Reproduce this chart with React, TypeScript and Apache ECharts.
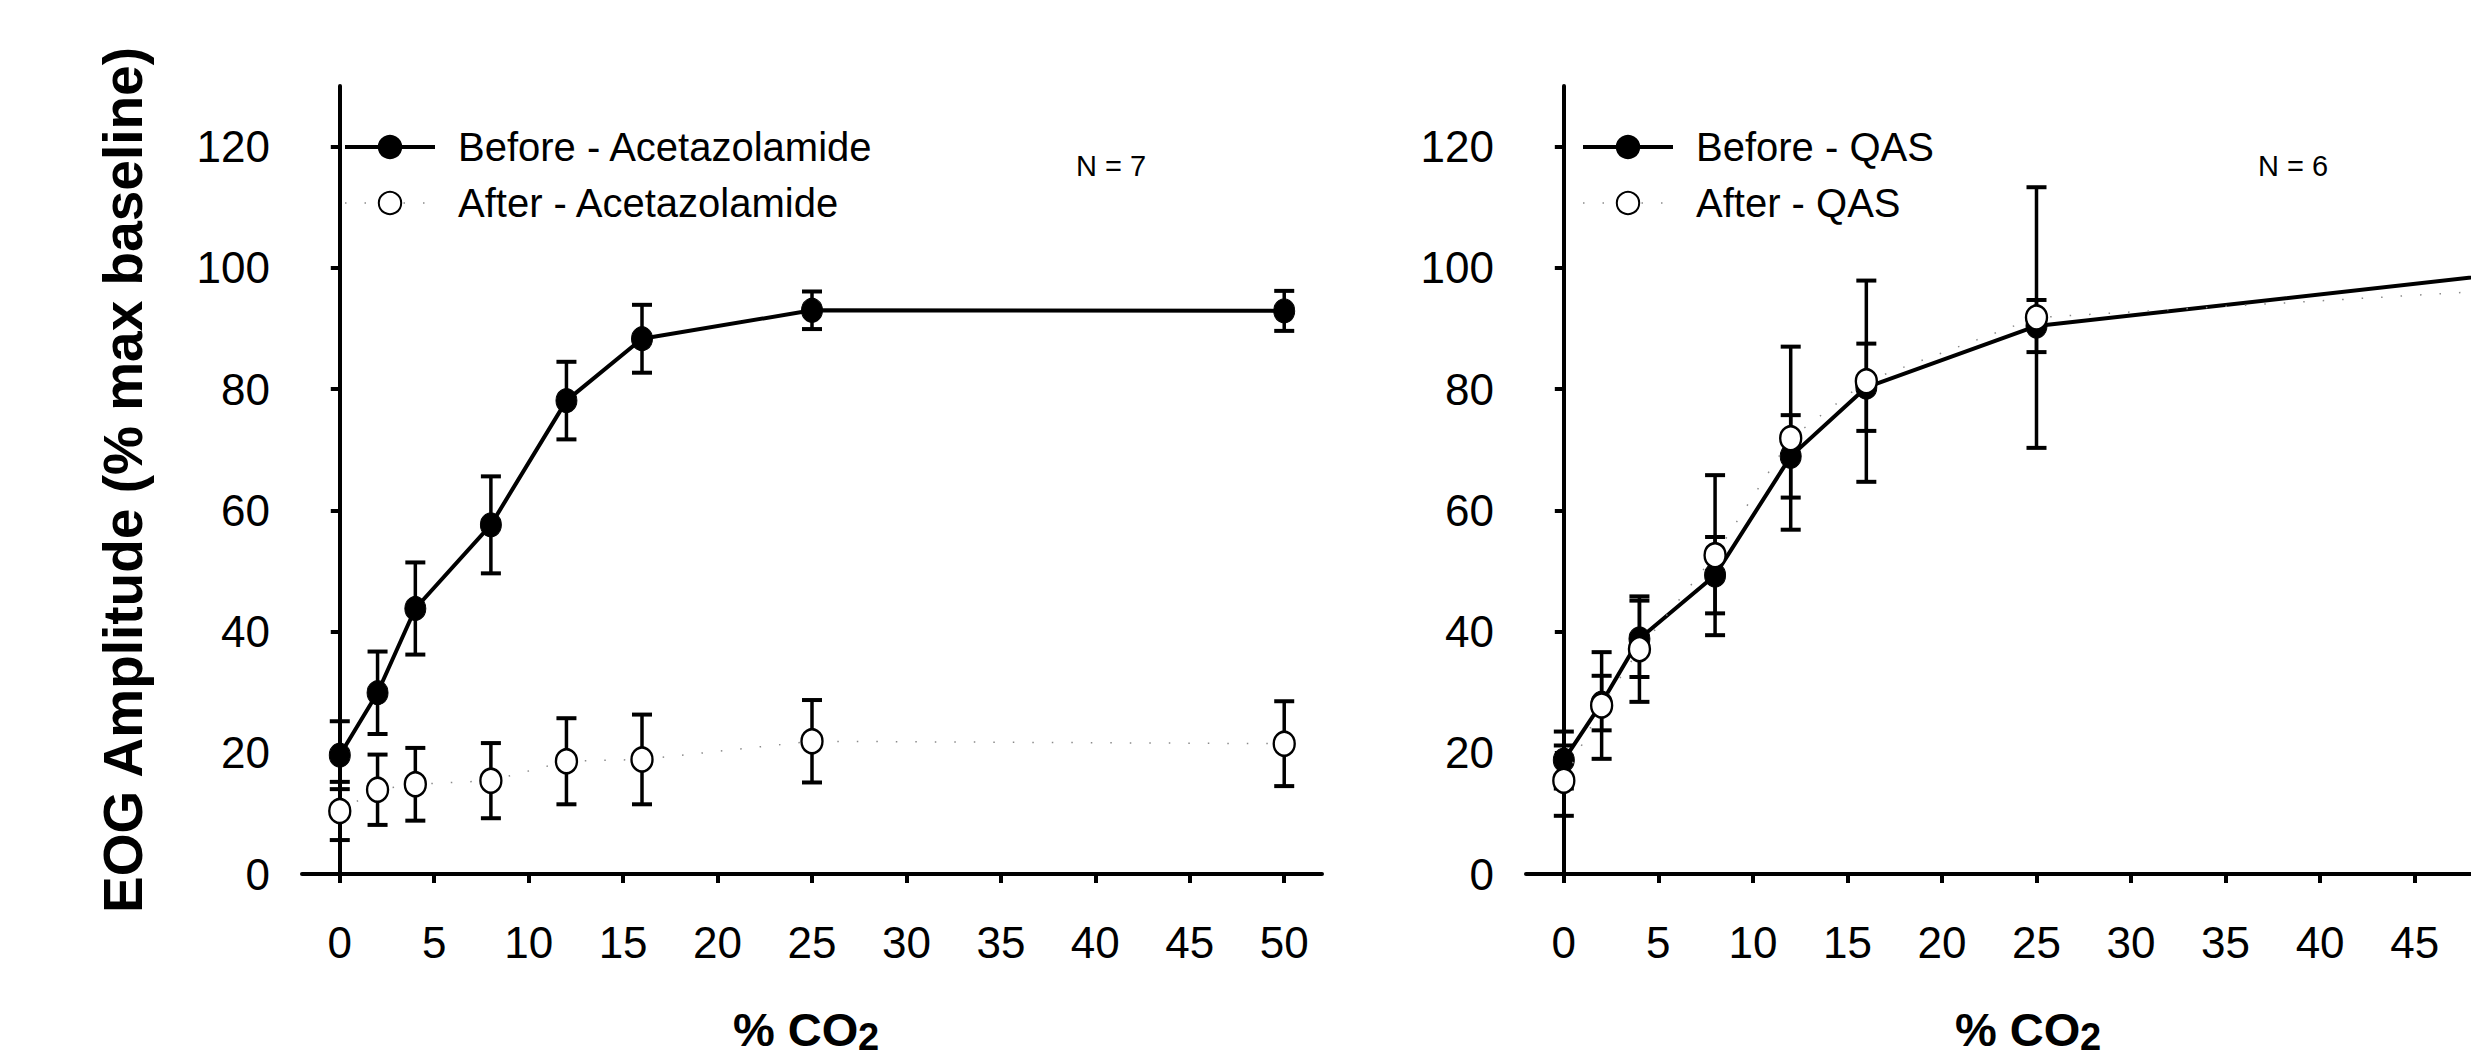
import React, { useEffect, useRef } from "react";
import * as echarts from "echarts";

// % CO2 levels
const co2 = [0, 2, 4, 8, 12, 16, 25, 50];

// Left panel: Acetazolamide (N = 7)
const beforeAcet = [19.6, 29.9, 43.8, 57.6, 78.1, 88.3, 93.0, 92.9];
const beforeAcetSE = [5.6, 6.8, 7.6, 8.0, 6.4, 5.6, 3.1, 3.3];
const afterAcet = [10.4, 13.9, 14.8, 15.4, 18.6, 18.9, 21.9, 21.5];
const afterAcetSE = [4.8, 5.8, 6.0, 6.2, 7.1, 7.4, 6.8, 7.0];

// Right panel: QAS (N = 6)
const beforeQAS = [18.8, 28.2, 38.8, 49.3, 68.9, 80.3, 90.4, 99.1];
const beforeQASSE = [4.7, 4.5, 6.3, 6.3, 6.8, 7.2, 4.3, 4.0];
const afterQAS = [15.4, 27.8, 37.1, 52.6, 71.9, 81.3, 91.8, 96.4];
const afterQASSE = [5.8, 8.8, 8.7, 13.2, 15.1, 16.6, 21.5, 20.0];

const xTicks = [0, 5, 10, 15, 20, 25, 30, 35, 40, 45, 50];
// the right panel is cropped by the picture edge just before its "50" label
const xTicksRightLabels = [0, 5, 10, 15, 20, 25, 30, 35, 40, 45];
const yTicks = [0, 20, 40, 60, 80, 100, 120];

const FONT = "'Liberation Sans', Arial, Helvetica, sans-serif";

const BEFORE_LINE = { color: "#000", width: 4 };
const AFTER_LINE = { color: "#8a8a8a", width: 1.5, type: [1.5, 18] };

function errorSeries(idx: number, means: number[], ses: number[]) {
  return {
    type: "custom",
    xAxisIndex: idx,
    yAxisIndex: idx,
    silent: true,
    z: 2,
    data: co2.map((x, i) => [x, means[i] - ses[i], means[i] + ses[i]]),
    renderItem: (params: any, api: any) => {
      const x = api.value(0);
      const lo = api.coord([x, api.value(1)]);
      const hi = api.coord([x, api.value(2)]);
      const cap = 10;
      const bar = { stroke: "#000", lineWidth: 3.5 };
      const capStyle = { stroke: "#000", lineWidth: 4 };
      return {
        type: "group",
        children: [
          { type: "line", shape: { x1: lo[0], y1: lo[1], x2: hi[0], y2: hi[1] }, style: bar },
          { type: "line", shape: { x1: lo[0] - cap, y1: lo[1], x2: lo[0] + cap, y2: lo[1] }, style: capStyle },
          { type: "line", shape: { x1: hi[0] - cap, y1: hi[1], x2: hi[0] + cap, y2: hi[1] }, style: capStyle },
        ],
      };
    },
  };
}

function beforeSeries(name: string, idx: number, vals: number[]) {
  return {
    type: "line",
    name,
    xAxisIndex: idx,
    yAxisIndex: idx,
    data: co2.map((x, i) => [x, vals[i]]),
    symbol: "circle",
    symbolSize: [21, 24],
    lineStyle: BEFORE_LINE,
    itemStyle: { color: "#000", borderColor: "#000", borderWidth: 1 },
    z: 3,
    clip: false,
  };
}

function afterSeries(name: string, idx: number, vals: number[]) {
  return {
    type: "line",
    name,
    xAxisIndex: idx,
    yAxisIndex: idx,
    data: co2.map((x, i) => [x, vals[i]]),
    symbol: "circle",
    symbolSize: [21, 24],
    lineStyle: AFTER_LINE,
    itemStyle: { color: "#fff", borderColor: "#000", borderWidth: 2.5 },
    z: 4,
    clip: false,
  };
}

function xAxis(idx: number, labels: number[]) {
  return {
    type: "value",
    gridIndex: idx,
    min: -2,
    max: 52,
    splitLine: { show: false },
    axisLine: { show: true, onZero: false, lineStyle: { color: "#000", width: 4 } },
    axisTick: { show: true, customValues: xTicks, length: 9, lineStyle: { color: "#000", width: 4 } },
    axisLabel: { customValues: labels, fontSize: 44, color: "#000", margin: 46, fontFamily: FONT },
  };
}

function yAxis(idx: number, withName: boolean) {
  return {
    type: "value",
    gridIndex: idx,
    min: 0,
    max: 130,
    splitLine: { show: false },
    axisLine: { show: true, lineStyle: { color: "#000", width: 4 } },
    axisTick: { show: true, customValues: yTicks, length: 9, lineStyle: { color: "#000", width: 4 } },
    axisLabel: { customValues: yTicks, fontSize: 44, color: "#000", margin: 32, fontFamily: FONT },
    name: withName ? "EOG Amplitude (% max baseline)" : "",
    nameLocation: "middle",
    nameRotate: 90,
    nameGap: 152,
    nameTextStyle: { fontSize: 55, fontWeight: "bold", color: "#000", fontFamily: FONT },
  };
}

function legend(names: string[], left: number) {
  return {
    data: [
      { name: names[0], lineStyle: { width: 4, color: "#000" } },
      { name: names[1], lineStyle: { width: 1.5, color: "#8a8a8a", type: [1.5, 18] } },
    ],
    orient: "vertical",
    left,
    top: 122,
    itemWidth: 90,
    itemHeight: 28,
    itemGap: 16,
    selectedMode: false,
    textStyle: { fontSize: 40, color: "#000", fontFamily: FONT, padding: [0, 0, 0, 18] },
  };
}

function co2Title(cx: number) {
  return {
    type: "group",
    children: [
      {
        type: "text",
        x: cx - 80,
        y: 1029,
        style: { text: "% CO", font: `bold 47px ${FONT}`, fill: "#000", align: "left", verticalAlign: "middle" },
      },
      {
        type: "text",
        x: cx + 45,
        y: 1037,
        style: { text: "2", font: `bold 38px ${FONT}`, fill: "#000", align: "left", verticalAlign: "middle" },
      },
    ],
  };
}

export default function App() {
  const ref = useRef<HTMLDivElement>(null);
  useEffect(() => {
    if (!ref.current) return;
    const chart = echarts.init(ref.current, null, { renderer: "svg" });
    chart.setOption({
      animation: false,
      backgroundColor: "#fff",
      textStyle: { fontFamily: FONT },
      grid: [
        { left: 302, top: 86, width: 1020, height: 788 },
        { left: 1526, top: 86, width: 1021, height: 788 },
      ],
      xAxis: [xAxis(0, xTicks), xAxis(1, xTicksRightLabels)],
      yAxis: [yAxis(0, true), yAxis(1, false)],
      legend: [
        legend(["Before - Acetazolamide", "After - Acetazolamide"], 338),
        legend(["Before - QAS", "After - QAS"], 1576),
      ],
      graphic: [
        co2Title(813),
        co2Title(2035),
        {
          type: "text",
          x: 1111,
          y: 166,
          style: { text: "N = 7", font: `29px ${FONT}`, fill: "#000", align: "center", verticalAlign: "middle" },
        },
        {
          type: "text",
          x: 2293,
          y: 166,
          style: { text: "N = 6", font: `29px ${FONT}`, fill: "#000", align: "center", verticalAlign: "middle" },
        },
      ],
      series: [
        errorSeries(0, beforeAcet, beforeAcetSE),
        errorSeries(0, afterAcet, afterAcetSE),
        beforeSeries("Before - Acetazolamide", 0, beforeAcet),
        afterSeries("After - Acetazolamide", 0, afterAcet),
        errorSeries(1, beforeQAS, beforeQASSE),
        errorSeries(1, afterQAS, afterQASSE),
        beforeSeries("Before - QAS", 1, beforeQAS),
        afterSeries("After - QAS", 1, afterQAS),
      ],
    });
    return () => chart.dispose();
  }, []);
  return (
    <div
      style={{ position: "absolute", left: 0, top: 0, width: 2471, height: 1057, overflow: "hidden", background: "#fff" }}
    >
      <div ref={ref} style={{ position: "absolute", left: 0, top: 0, width: 2600, height: 1057 }} />
    </div>
  );
}
